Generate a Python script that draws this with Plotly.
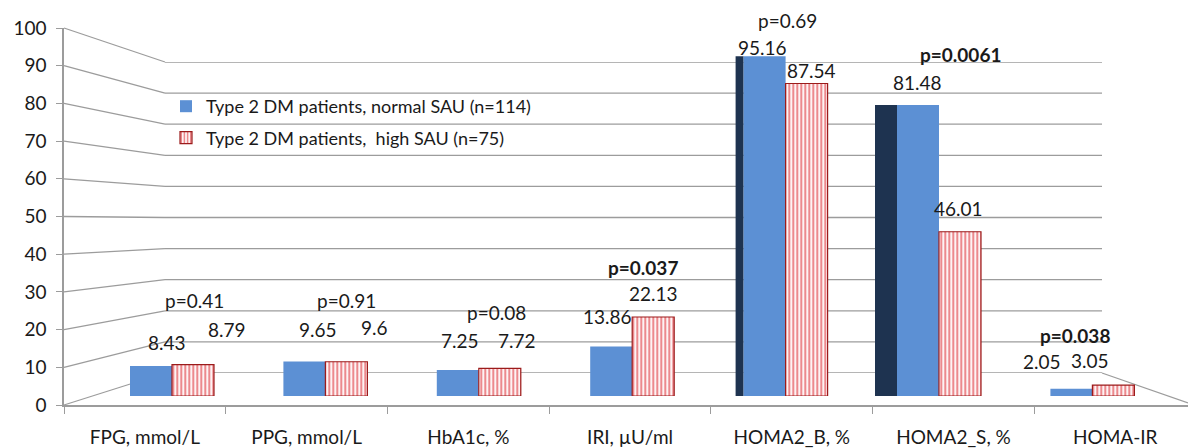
import plotly.graph_objects as go

# ---------------- data ----------------
categories = ["FPG, mmol/L", "PPG, mmol/L", "HbA1c, %", "IRI, µU/ml",
              "HOMA2_B, %", "HOMA2_S, %", "HOMA-IR"]
normal_sau = [8.43, 9.65, 7.25, 13.86, 95.16, 81.48, 2.05]
high_sau = [8.79, 9.6, 7.72, 22.13, 87.54, 46.01, 3.05]
p_values = ["p=0.41", "p=0.91", "p=0.08", "p=0.037", "p=0.69", "p=0.0061", "p=0.038"]
p_bold = [False, False, False, True, False, True, True]
series_names = ["Type 2 DM patients, normal SAU (n=114)",
                "Type 2 DM patients,  high SAU (n=75)"]
y_ticks = list(range(0, 101, 10))

# ---------------- style / layout helpers ----------------
W, H = 1188, 448
FONT = "Lato"
TXT = "#1a1a1a"
GRID = "#9c9c9c"
BLUE = "#5C90D4"
NAVY = "#1E3350"
RED = "#D9141C"
DARKRED = "#9B1B1B"

def py(px):  # pixel y -> paper y
    return 1 - px / H

def pxx(px):  # pixel x -> paper x
    return px / W

# front axis (labels): 0 -> 405 px, 100 -> 28 px
AX_Y0, AX_Y100, AX_X = 405, 28, 64
# back wall: 0 -> 373 px, 100 -> 62 px, x from 165 to 1102
WALL_Y0, WALL_Y100, WALL_X0, WALL_X1 = 373, 62, 165, 1102
# bars: 0 -> 396 px, 100 -> 39 px ; category 0 centre at 172 px, spacing 153.4 px
BAR_Y0, BAR_Y100 = 396, 39
BAR_C0, BAR_STEP = 172, 153.4

bar_w = 42 / BAR_STEP
side_idx = [4, 5]
side_px = {4: 8, 5: 22}

# label offsets (px) relative to category centre / bar top (3-D perspective look)
normal_dx = [-5, -7, -19, -25, -23, -22, -50]
normal_dy = [23, 32, 30, 30, 9, 23, 27]
high_dx = [55, 49, 38, 21, 26, 19, -2]
high_dy = [35, 34, 28, 24, 13, 23, 25]
p_dx = [22, 21, 18, 11, 2, 21, -17]
p_dy = [64, 61, 56, 50, 36, 51, 50]

fig = go.Figure()

# wall subplot (x, y) - dummy trace
fig.add_trace(go.Scatter(x=[0, 1], y=[0, 0], xaxis="x", yaxis="y", mode="markers",
                         marker=dict(opacity=0), hoverinfo="skip", showlegend=False))
# labelled axes subplot (x2, y2) - dummy trace to get category axis
fig.add_trace(go.Scatter(x=categories, y=[0] * len(categories), xaxis="x2", yaxis="y2",
                         mode="markers", marker=dict(opacity=0), hoverinfo="skip",
                         showlegend=False))

# side faces of tall blue bars
side_vals = [v if i in side_idx else None for i, v in enumerate(normal_sau)]
side_w = [side_px.get(i, 1) / BAR_STEP for i in range(len(categories))]
side_off = [-bar_w - w for w in side_w]
fig.add_trace(go.Bar(x=list(range(len(categories))), y=side_vals, xaxis="x3", yaxis="y3",
                     width=side_w, offset=side_off, marker=dict(color=NAVY, line=dict(width=0)),
                     showlegend=False, hoverinfo="skip"))

fig.add_trace(go.Bar(x=list(range(len(categories))), y=normal_sau, xaxis="x3", yaxis="y3",
                     name=series_names[0], width=bar_w, offset=-bar_w,
                     marker=dict(color=BLUE, line=dict(width=0)), legendgroup="a"))
fig.add_trace(go.Bar(x=list(range(len(categories))), y=high_sau, xaxis="x3", yaxis="y3",
                     name=series_names[1], width=bar_w, offset=0,
                     marker=dict(color="white", line=dict(color=DARKRED, width=1.2),
                                 pattern=dict(shape="|", fgcolor=RED, bgcolor="white",
                                              size=4, solidity=0.55)),
                     legendgroup="b"))

annotations = []
for i in range(len(categories)):
    annotations.append(dict(x=i, y=normal_sau[i], xref="x3", yref="y3",
                            text=f"{normal_sau[i]:g}", showarrow=False,
                            xshift=normal_dx[i], yshift=normal_dy[i], yanchor="middle",
                            font=dict(family=FONT, size=19, color=TXT)))
    annotations.append(dict(x=i, y=high_sau[i], xref="x3", yref="y3",
                            text=f"{high_sau[i]:g}", showarrow=False,
                            xshift=high_dx[i], yshift=high_dy[i], yanchor="middle",
                            font=dict(family=FONT, size=19, color=TXT)))
    t = f"<b>{p_values[i]}</b>" if p_bold[i] else p_values[i]
    annotations.append(dict(x=i, y=max(normal_sau[i], high_sau[i]), xref="x3", yref="y3",
                            text=t, showarrow=False, xshift=p_dx[i], yshift=p_dy[i],
                            yanchor="middle", font=dict(family=FONT, size=19, color=TXT)))

# perspective side-wall / back-wall / floor lines
def ax_px(v):
    return AX_Y0 + (AX_Y100 - AX_Y0) * v / 100

def wall_px(v):
    return WALL_Y0 + (WALL_Y100 - WALL_Y0) * v / 100

shapes = []
for v in y_ticks:
    shapes.append(dict(type="line", xref="paper", yref="paper", layer="below",
                       x0=pxx(AX_X), y0=py(ax_px(v)), x1=pxx(WALL_X0), y1=py(wall_px(v)),
                       line=dict(color=GRID, width=1.3)))
    shapes.append(dict(type="line", xref="paper", yref="y", layer="below",
                       x0=pxx(WALL_X0), y0=v, x1=pxx(WALL_X1), y1=v,
                       line=dict(color=GRID, width=1.3)))
shapes.append(dict(type="line", xref="paper", yref="paper", layer="below",
                   x0=pxx(WALL_X1), y0=py(wall_px(0)), x1=1, y1=py(403),
                   line=dict(color=GRID, width=1.3)))

fig.update_layout(
    width=W, height=H, autosize=False,
    margin=dict(l=0, r=0, t=0, b=0, pad=0),
    paper_bgcolor="white", plot_bgcolor="rgba(0,0,0,0)",
    barmode="overlay",
    font=dict(family=FONT, size=19, color=TXT),
    showlegend=True,
    legend=dict(x=pxx(166), y=py(88), xanchor="left", yanchor="top",
                bgcolor="rgba(0,0,0,0)", font=dict(family=FONT, size=18, color=TXT),
                tracegroupgap=5, traceorder="grouped"),
    xaxis=dict(domain=[pxx(WALL_X0), pxx(WALL_X1)], range=[0, 1], showgrid=False,
               showticklabels=False, zeroline=False, showline=False, ticks="", anchor="y",
               automargin=False),
    yaxis=dict(domain=[py(WALL_Y0), py(WALL_Y100)], range=[0, 100], showgrid=False,
               showticklabels=False, zeroline=False, showline=False, ticks="", anchor="x",
               automargin=False),
    xaxis2=dict(domain=[pxx(AX_X), 1], range=[-0.5, 6.45], type="category",
                categoryorder="array", categoryarray=categories,
                showgrid=False, zeroline=False, showline=True, linecolor=GRID, linewidth=1.5,
                ticks="outside", tickson="boundaries", ticklen=7, tickcolor=GRID,
                tickwidth=1.3, ticklabelstandoff=14, automargin=False,
                tickfont=dict(family=FONT, size=19, color=TXT), anchor="y2"),
    yaxis2=dict(domain=[py(AX_Y0), py(AX_Y100)], range=[0, 100], dtick=10, tick0=0,
                showgrid=False, zeroline=False, showline=True, linecolor=GRID, linewidth=1.5,
                ticks="outside", ticklen=6, tickcolor=GRID, tickwidth=1.3,
                ticklabelstandoff=6, automargin=False,
                tickfont=dict(family=FONT, size=19, color=TXT), anchor="x2"),
    xaxis3=dict(domain=[pxx(BAR_C0 - BAR_STEP / 2), pxx(BAR_C0 + 6.5 * BAR_STEP)],
                range=[-0.5, 6.5], visible=False, anchor="y3", automargin=False),
    yaxis3=dict(domain=[py(BAR_Y0), py(BAR_Y100)], range=[0, 100], visible=False,
                anchor="x3", automargin=False),
    annotations=annotations,
    shapes=shapes,
)

fig.write_html("out.html")
